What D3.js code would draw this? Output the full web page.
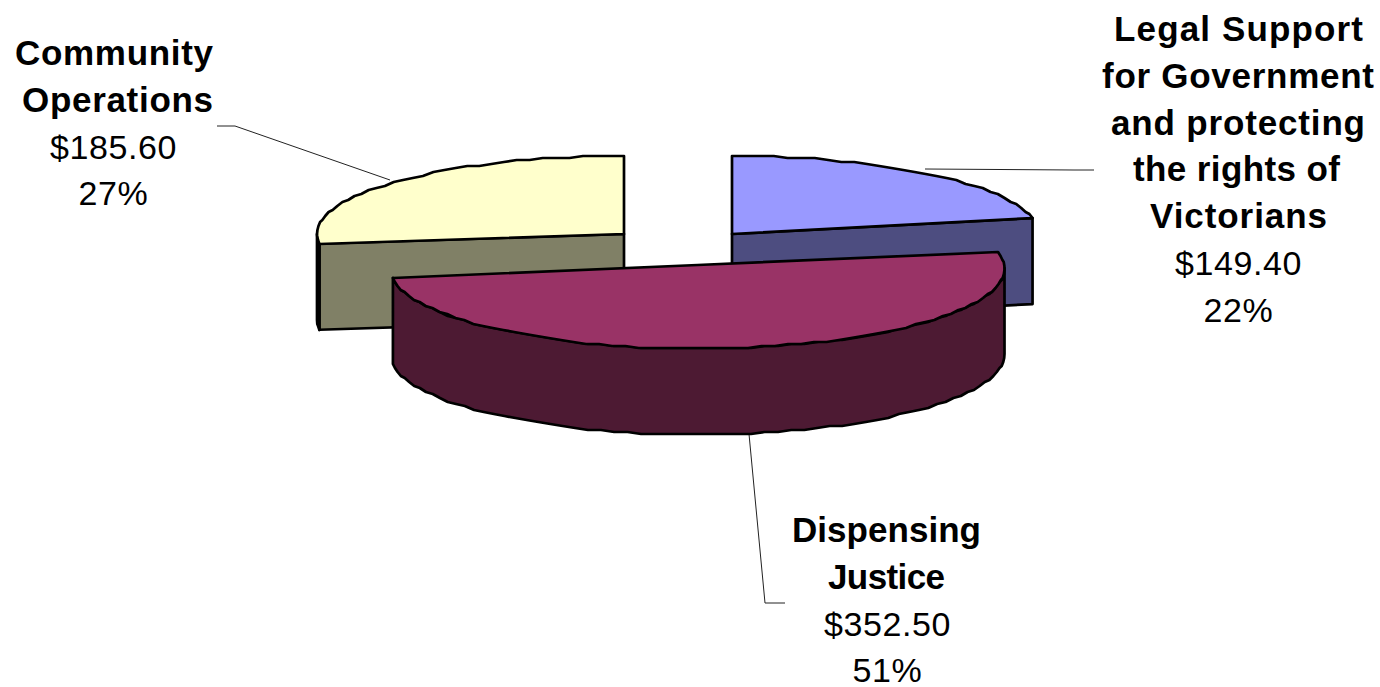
<!DOCTYPE html>
<html>
<head>
<meta charset="utf-8">
<script src="https://cdn.jsdelivr.net/npm/d3@7"></script>
<style>
  html, body { margin: 0; background: #fff; }
  text { font-family: "Liberation Sans", Arial, sans-serif; font-size: 34px; fill: #000; text-anchor: middle; letter-spacing: 0.6px; }
  .name { font-size: 35px; font-weight: bold; letter-spacing: 0; }
</style>
</head>
<body>
<svg width="1380" height="687"></svg>
<script>
// chart values, in the order the pie is drawn clockwise from 12 o'clock
const categories = ["Legal Support for Government and protecting the rights of Victorians", "Dispensing Justice", "Community Operations"];
const values = [149.4, 352.5, 185.6];
const nameLines = [
  ["Legal Support", "for Government", "and protecting", "the rights of", "Victorians"],
  ["Dispensing", "Justice"],
  ["Community", "Operations"]
];
const topColors = ["#9999ff", "#993366", "#ffffcc"];
const sideColors = ["#4d4d80", "#4d1a33", "#808066"];

// layout of the exploded slices
const centers = [[732, 234], [697.5, 268.5], [624, 234]];
const apexes = [[732, 234], [697.5, 265], [624, 234]];
const radiusX = [307, 307, 307];
const radiusY = [78, 80, 78];
const depth = 86;
const labelPos = [[1238.5, 41], [887.5, 542], [113.5, 65]];
const lineStep = 46.8;
// measured line widths and small offsets of the bold names
const nameWidths = [[249, 272, 254, 207, 177], [189, 117], [198, 191]];
const nameDx = [[0, -0.5, -0.5, -2, 0], [-1, -1], [0.5, 4]];
const leaders = [
  [[925, 169], [1074, 170], [1094, 170]],
  [[749, 434], [765, 603], [785, 603]],
  [[390, 180], [235, 126], [217, 126]]
];

const svg = d3.select("svg");
const total = d3.sum(values);
const money = d3.format("$.2f");
const pct = d3.format(".0%");
const line = d3.line();

const arcs = d3.pie().sort(null)(values);

// outline of the pie comes out slightly stepped, like the original export
function rimPoint(i, a, dy) {
  const x = centers[i][0] + radiusX[i] * Math.sin(a);
  const y = centers[i][1] - radiusY[i] * Math.cos(a) + dy;
  return [x, y];
}
function rim(i, a0, a1, dy) {
  const n = Math.max(2, Math.round(Math.abs(a1 - a0) / 0.045));
  return d3.range(n + 1).map(k => {
    const a = a0 + (a1 - a0) * k / n;
    const p = rimPoint(i, a, dy);
    return [p[0], Math.round(p[1] / 2) * 2];
  });
}

function drawPoly(g, pts, fill) {
  g.append("path")
    .attr("d", line(pts) + "Z")
    .attr("fill", fill)
    .attr("stroke", "#000")
    .attr("stroke-width", 2.7)
    .attr("stroke-linejoin", "round");
}

// leader lines sit under the slices
leaders.forEach(l => {
  svg.append("path").attr("d", line(l)).attr("fill", "none").attr("stroke", "#222").attr("stroke-width", 1);
});

[2, 0, 1].forEach(i => {
  const d = arcs[i];
  const g = svg.append("g");
  const c = apexes[i];
  if (i != 1) {
    // the flat cut face towards the viewer
    const a = i == 0 ? d.endAngle : d.startAngle;
    const p = rimPoint(i, a, 0);
    drawPoly(g, [c, p, [p[0], p[1] + depth], [c[0], c[1] + depth]], sideColors[i]);
  }
  // outer wall, front half only
  const from = Math.max(d.startAngle, Math.PI / 2);
  const to = Math.min(d.endAngle, Math.PI * 1.5);
  if (to > from) {
    drawPoly(g, rim(i, from, to, 0).concat(rim(i, to, from, depth)), sideColors[i]);
  }
  drawPoly(g, [c].concat(rim(i, d.startAngle, d.endAngle, 0)), topColors[i]);
});

// labels
categories.forEach((name, i) => {
  const t = svg.append("g").attr("class", "label");
  const lines = nameLines[i];
  lines.forEach((s, k) => {
    t.append("text").attr("class", "name")
      .attr("x", labelPos[i][0] + nameDx[i][k]).attr("y", labelPos[i][1] + k * lineStep)
      .attr("textLength", nameWidths[i][k]).attr("lengthAdjust", "spacing")
      .text(s);
  });
  t.append("text").attr("x", labelPos[i][0]).attr("y", labelPos[i][1] + lines.length * lineStep).text(money(values[i]));
  t.append("text").attr("x", labelPos[i][0]).attr("y", labelPos[i][1] + (lines.length + 1) * lineStep).text(pct(values[i] / total));
});
</script>
</body>
</html>
